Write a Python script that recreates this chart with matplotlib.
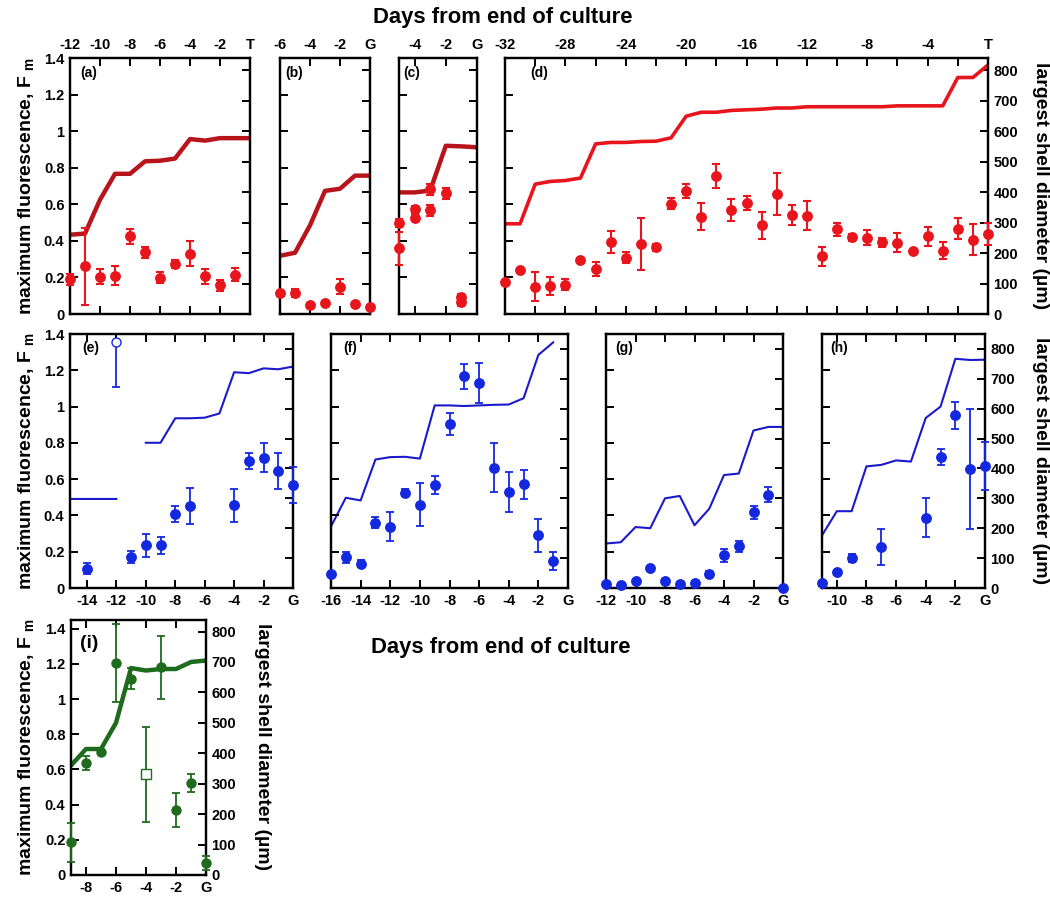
import numpy as np
import matplotlib
matplotlib.use('Agg')
import matplotlib.pyplot as plt

plt.rcParams['font.family'] = ['Liberation Sans', 'DejaVu Sans']
plt.rcParams['font.weight'] = 'bold'
plt.rcParams['mathtext.fontset'] = 'custom'
plt.rcParams['mathtext.rm'] = 'Liberation Sans:bold'
plt.rcParams['mathtext.bf'] = 'Liberation Sans:bold'

W, H = 1050, 898

# ---- data ----
# (a)
a_x = [-12, -11, -10, -9, -8, -7, -6, -5, -4, -3, -2, -1]
a_fm = [0.19, 0.26, 0.205, 0.21, 0.425, 0.337, 0.197, 0.273, 0.33, 0.206, 0.157, 0.215]
a_err = [0.03, 0.21, 0.04, 0.05, 0.04, 0.03, 0.03, 0.02, 0.07, 0.04, 0.03, 0.035]
a_ldays = [-12, -11, -10, -9, -8, -7, -6, -5, -4, -3, -2, -1, 0]
a_diam = [260, 264, 375, 460, 460, 501, 503, 510, 574, 569, 577, 577, 577]
# (b)
b_x = [-6, -5, -4, -3, -2, -1, 0]
b_fm = [0.114, 0.115, 0.05, 0.06, 0.15, 0.055, 0.037]
b_err = [0.01, 0.02, 0.01, 0.01, 0.04, 0.01, 0.01]
b_ldays = [-6, -5, -4, -3, -2, -1, 0]
b_diam = [191, 201, 291, 404, 411, 454, 454]
# (c)
c_x = [-5, -5, -4, -4, -3, -3, -2, -1, -1]
c_fm = [0.498, 0.36, 0.573, 0.527, 0.681, 0.568, 0.661, 0.092, 0.064]
c_err = [0.02, 0.09, 0.02, 0.02, 0.03, 0.03, 0.03, 0.02, 0.02]
c_ldays = [-5, -4, -3, -2, -1, 0]
c_diam = [399, 399, 405, 552, 550, 547]
# (d)
d_x = list(range(-32, 1))
d_fm = [0.173, 0.243, 0.15, 0.155, 0.159, 0.297, 0.246, 0.396, 0.308, 0.383, 0.365,
        0.602, 0.672, 0.533, 0.754, 0.569, 0.608, 0.484, 0.658, 0.54, 0.537, 0.315,
        0.463, 0.42, 0.417, 0.393, 0.391, 0.343, 0.424, 0.347, 0.467, 0.406, 0.435]
d_err = [0, 0, 0.08, 0.05, 0.03, 0, 0.04, 0.06, 0.03, 0.143, 0.02, 0.03, 0.04, 0.075,
         0.065, 0.06, 0.04, 0.075, 0.115, 0.054, 0.08, 0.05, 0.035, 0.02, 0.04, 0.025,
         0.05, 0, 0.05, 0.045, 0.058, 0.085, 0.06]
d_diam = [296, 296, 426, 435, 438, 446, 558, 563, 563, 566, 567, 578, 649, 662, 662, 668,
          670, 672, 676, 676, 680, 680, 680, 680, 680, 680, 683, 683, 683, 683, 776, 776, 817]
# (e)
e_x = [-14, -11, -10, -9, -8, -7, -4, -3, -2, -1, 0]
e_fm = [0.107, 0.171, 0.235, 0.235, 0.407, 0.453, 0.456, 0.699, 0.717, 0.644, 0.567]
e_err = [0.03, 0.035, 0.065, 0.045, 0.045, 0.1, 0.09, 0.045, 0.08, 0.1, 0.1]
e_open_x = [-12]
e_open_fm = [1.357]
e_open_err = [0.25]
e_ldays = [-16, -12, -11, -10, -9, -8, -7, -6, -5, -4, -3, -2, -1, 0]
e_diam = [298, 298, np.nan, 486, 486, 568, 568, 570, 584, 722, 719, 735, 732, 741]
# (f)
f_x = list(range(-16, 0))
f_fm = [0.079, 0.169, 0.134, 0.359, 0.337, 0.525, 0.46, 0.567, 0.902, 1.166, 1.129,
        0.663, 0.529, 0.571, 0.291, 0.147]
f_err = [0, 0.03, 0.02, 0.03, 0.08, 0.02, 0.12, 0.05, 0.06, 0.07, 0.11, 0.135, 0.11,
         0.08, 0.09, 0.05]
f_diam = [206, 302, 293, 430, 438, 439, 433, 611, 611, 609, 611, 613, 614, 635, 780, 822]
# (g)
g_x = list(range(-12, 1))
g_fm = [0.024, 0.018, 0.037, 0.109, 0.037, 0.022, 0.026, 0.077, 0.18, 0.23, 0.418, 0.514, 0.0]
g_err = [0, 0, 0, 0, 0, 0, 0, 0.015, 0.035, 0.03, 0.035, 0.04, 0]
g_diam = [149, 153, 204, 200, 300, 308, 210, 265, 378, 383, 527, 539, 539]
# (h)
h_x = [-11, -10, -9, -7, -4, -3, -2, -1, 0]
h_fm = [0.028, 0.088, 0.166, 0.226, 0.387, 0.722, 0.951, 0.654, 0.672]
h_err = [0, 0, 0.02, 0.097, 0.107, 0.045, 0.074, 0.33, 0.13]
h_ldays = list(range(-11, 1))
h_diam = [176, 257, 257, 407, 412, 427, 423, 569, 607, 767, 763, 764]
# (i)
i_x = [-9, -8, -7, -6, -5, -3, -2, -1, 0]
i_fm = [0.186, 0.636, 0.698, 1.205, 1.116, 1.18, 0.37, 0.522, 0.066]
i_err = [0.11, 0.04, 0.0, 0.22, 0.06, 0.18, 0.095, 0.05, 0.04]
i_open_x = [-4]
i_open_fm = [0.573]
i_open_err = [0.27]
i_ldays = list(range(-9, 1))
i_diam = [360, 414, 414, 500, 680, 672, 677, 677, 700, 705]

fm_ticks = [0, 0.2, 0.4, 0.6, 0.8, 1.0, 1.2, 1.4]
fm_labels = ['0', '0.2', '0.4', '0.6', '0.8', '1', '1.2', '1.4']
diam_ticks = [0, 100, 200, 300, 400, 500, 600, 700, 800]

RED = '#e8161c'
DARKRED = '#b8141b'
BLUE = '#1428e0'
BLUELINE = '#1a1acc'
GREEN = '#1e6b1e'

fig = plt.figure(figsize=(W / 100, H / 100), dpi=100)


def panel(left, top, right, bottom, xlim, ylim_l, ylim_r, xticks, xlabels,
          top_labels, left_labels, right_labels):
    ax = fig.add_axes([left / W, 1 - bottom / H, (right - left) / W, (bottom - top) / H])
    ax2 = ax.twinx()
    ax.set_zorder(ax2.get_zorder() + 1)
    ax.patch.set_visible(False)
    ax.set_xlim(*xlim)
    ax.set_ylim(*ylim_l)
    ax2.set_ylim(*ylim_r)
    for a in (ax, ax2):
        for s in a.spines.values():
            s.set_linewidth(1.6)
    ax.set_xticks(xticks)
    ax.set_xticklabels(xlabels)
    ax.set_yticks(fm_ticks)
    ax.set_yticklabels(fm_labels if left_labels else [])
    ax2.set_yticks(diam_ticks)
    ax2.set_yticklabels([str(t) for t in diam_ticks] if right_labels else [])
    ax.tick_params(axis='both', direction='in', length=6, width=1.4, top=True,
                   labelsize=10.5, pad=4, labeltop=top_labels, labelbottom=not top_labels)
    ax2.tick_params(axis='y', direction='in', length=6, width=1.4, labelsize=10.5, pad=4)
    return ax, ax2


def day_labels(ticks, end, every=2):
    out = []
    for t in ticks:
        if t == 0:
            out.append(end)
        elif t % every == 0:
            out.append(str(t))
        else:
            out.append('')
    return out


def points(ax, x, y, err, color, ms=6.8, face=None, marker='o', lw=1.5):
    ax.errorbar(x, y, yerr=err, fmt=marker, color=color, ms=ms,
                mfc=face if face else color, mec=color, capsize=3.2,
                elinewidth=lw, capthick=lw, clip_on=False, zorder=3)


def tag(ax, label, dx, dy, size=10):
    ax.annotate(label, xy=(0, 1), xycoords='axes fraction', xytext=(dx, -dy),
                textcoords='offset pixels', ha='left', va='center',
                fontsize=size, fontweight='bold')


# ---- top row ----
ax, ax2 = panel(70, 58, 250, 314, (-12, 0), (0, 1.4), (0, 840),
                range(-12, 1, 2), day_labels(range(-12, 1, 2), 'T'), True, True, False)
ax2.plot(a_ldays, a_diam, color=DARKRED, lw=3.2)
points(ax, a_x, a_fm, a_err, RED)
tag(ax, '(a)', 10, 15)

ax, ax2 = panel(280, 58, 370, 314, (-6, 0), (0, 1.4), (0, 840),
                range(-6, 1, 2), day_labels(range(-6, 1, 2), 'G'), True, False, False)
ax2.plot(b_ldays, b_diam, color=DARKRED, lw=3.2)
points(ax, b_x, b_fm, b_err, RED)
tag(ax, '(b)', 5, 15)

ax, ax2 = panel(399, 58, 477, 314, (-5, 0), (0, 1.4), (0, 840),
                range(-4, 1, 2), day_labels(range(-4, 1, 2), 'G'), True, False, False)
ax2.plot(c_ldays, c_diam, color=DARKRED, lw=3.2)
points(ax, c_x, c_fm, c_err, RED)
tag(ax, '(c)', 4, 15)

ax, ax2 = panel(505, 58, 988, 314, (-32, 0), (0, 1.4), (0, 840),
                range(-32, 1, 2), day_labels(range(-32, 1, 2), 'T', 4), True, False, True)
ax2.plot(d_x, d_diam, color=RED, lw=2.6)
points(ax, d_x, d_fm, d_err, RED)
tag(ax, '(d)', 25, 15)

# ---- middle row ----
ax, ax2 = panel(70, 334, 293, 588, (-15.15, 0), (0, 1.4), (0, 850),
                range(-14, 1, 2), day_labels(range(-14, 1, 2), 'G'), False, True, False)
ax2.plot(e_ldays, e_diam, color=BLUELINE, lw=1.5)
points(ax, e_x, e_fm, e_err, BLUE, lw=1.3)
points(ax, e_open_x, e_open_fm, [[e_open_err[0]], [0]], BLUE, ms=6.5, face='white', lw=1.3)
tag(ax, '(e)', 12, 14)

ax, ax2 = panel(331, 334, 568, 588, (-16, 0), (0, 1.4), (0, 850),
                range(-16, 1, 2), day_labels(range(-16, 1, 2), 'G'), False, False, False)
ax2.plot(f_x, f_diam, color=BLUELINE, lw=1.5)
points(ax, f_x, f_fm, f_err, BLUE, lw=1.3)
tag(ax, '(f)', 12, 14)

ax, ax2 = panel(606, 334, 783, 588, (-12, 0), (0, 1.4), (0, 850),
                range(-12, 1, 2), day_labels(range(-12, 1, 2), 'G'), False, False, False)
ax2.plot(g_x, g_diam, color=BLUELINE, lw=1.5)
points(ax, g_x, g_fm, g_err, BLUE, lw=1.3)
tag(ax, '(g)', 9, 14)

ax, ax2 = panel(822, 334, 985, 588, (-11, 0), (0, 1.4), (0, 850),
                range(-10, 1, 2), day_labels(range(-10, 1, 2), 'G'), False, False, True)
ax2.plot(h_ldays, h_diam, color=BLUELINE, lw=1.5)
points(ax, h_x, h_fm, h_err, BLUE, lw=1.3)
tag(ax, '(h)', 8, 14)

# ---- bottom panel ----
ax, ax2 = panel(71, 620, 206, 875, (-9, 0), (0, 1.45), (0, 838),
                range(-8, 1, 2), day_labels(range(-8, 1, 2), 'G'), False, True, True)
ax2.plot(i_ldays, i_diam, color=GREEN, lw=3.2)
points(ax, i_x, i_fm, i_err, GREEN, ms=6.5, lw=1.3)
points(ax, i_open_x, i_open_fm, i_open_err, GREEN, ms=6.5, face='white', marker='s', lw=1.3)
tag(ax, '(i)', 9, 23, size=14)

# ---- axis titles ----
fm_label = r'maximum fluorescence, F$_{\ \mathrm{m}}$'
diam_label = 'largest shell diameter (µm)'
fig.text(503 / W, 1 - 17 / H, 'Days from end of culture', ha='center', va='center',
         fontsize=15.8, fontweight='bold')
fig.text(501 / W, 1 - 648 / H, 'Days from end of culture', ha='center', va='center',
         fontsize=15.8, fontweight='bold')
for yc in (186, 461):
    fig.text(27 / W, 1 - yc / H, fm_label, rotation=90, ha='center', va='center',
             fontsize=14, fontweight='bold')
    fig.text(1040 / W, 1 - yc / H, diam_label, rotation=270, ha='center', va='center',
             fontsize=14, fontweight='bold')
fig.text(27 / W, 1 - 747 / H, fm_label, rotation=90, ha='center', va='center',
         fontsize=14, fontweight='bold')
fig.text(262 / W, 1 - 747 / H, diam_label, rotation=270, ha='center', va='center',
         fontsize=14, fontweight='bold')

fig.savefig('out.png', dpi=100)
